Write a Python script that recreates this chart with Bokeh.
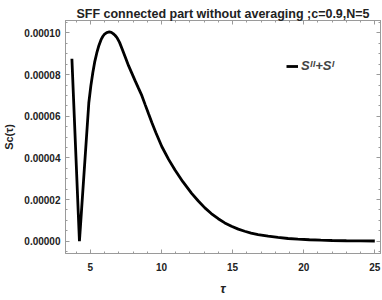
from bokeh.plotting import figure
from bokeh.models import (Range1d, LinearAxis, FixedTicker, NumeralTickFormatter,
                          Legend, LegendItem)
from bokeh.embed import file_html
from bokeh.resources import INLINE

# ---- data ----
tau = [3.70, 4.23, 4.89, 5.03, 5.17, 5.30, 5.45, 5.60, 5.75, 5.87, 6.00, 6.15,
       6.33, 6.47, 6.60, 6.73, 6.87, 7.05, 7.22, 7.45, 7.69, 7.92, 8.15, 8.38,
       8.62, 8.85, 9.09, 9.32, 9.60, 10.02, 10.50, 10.95, 11.50, 12.12, 12.59,
       13.05, 13.50, 13.99, 14.45, 14.92, 15.40, 15.85, 16.30, 16.79, 17.50,
       18.19, 18.90, 19.59, 20.40, 21.20, 22.00, 23.00, 24.00, 25.00]
s_c_e5 = [8.76, 0.00, 6.65, 7.45, 8.09, 8.60, 9.04, 9.40, 9.68, 9.83, 9.95, 10.02,
          10.05, 10.03, 9.97, 9.89, 9.78, 9.55, 9.26, 8.85, 8.42, 8.06, 7.70, 7.35,
          6.99, 6.56, 6.12, 5.70, 5.22, 4.55, 3.93, 3.42, 2.86, 2.30, 1.93,
          1.60, 1.33, 1.08, 0.88, 0.72, 0.58, 0.48, 0.39, 0.32, 0.24,
          0.18, 0.13, 0.10, 0.07, 0.05, 0.035, 0.022, 0.015, 0.01]
s_c = [v * 1e-5 for v in s_c_e5]

x_ticks = [5, 10, 15, 20, 25]
y_ticks = [0.0, 0.00002, 0.00004, 0.00006, 0.00008, 0.00010]
x_minor = [t for t in range(3, 26) if t % 5 != 0]
y_minor = [i * 0.000005 for i in range(-1, 22) if i % 4 != 0]

title_text = "SFF connected part without averaging ;c=0.9,N=5"
x_label = "\u03c4"
y_label = "Sc(\u03c4)"
legend_text = "S\u1d35\u1d35+S\u1d35"

GRAY = "#9a9a9a"
FONT = "Liberation Sans"
TXT = "#222222"

p = figure(width=382, height=300, output_backend="svg", toolbar_location=None,
           x_range=Range1d(3.25, 25.40), y_range=Range1d(-0.0000059, 0.0001060),
           min_border_left=63, min_border_right=2, min_border_top=20,
           min_border_bottom=47)
p.xgrid.visible = False
p.ygrid.visible = False
p.outline_line_color = GRAY
p.background_fill_color = "white"
p.border_fill_color = "white"

p.title.text = title_text
p.title.align = "center"
p.title.text_font = FONT
p.title.text_font_style = "bold"
p.title.text_font_size = "12.5px"
p.title.text_color = TXT
p.title.standoff = 0
p.title.offset = 0


def style_axis(ax, ticks, minor):
    ax.ticker = FixedTicker(ticks=ticks, minor_ticks=minor + ticks)
    ax.axis_line_color = GRAY
    ax.major_tick_line_color = GRAY
    ax.minor_tick_line_color = GRAY
    ax.major_tick_in = 4
    ax.major_tick_out = 0
    ax.minor_tick_in = 2
    ax.minor_tick_out = 0
    ax.major_label_text_font = FONT
    ax.major_label_text_font_style = "bold"
    ax.major_label_text_color = TXT
    ax.major_label_text_font_size = "10px"


xa = p.xaxis[0]
style_axis(xa, x_ticks, x_minor)
xa.major_label_standoff = 9
xa.axis_label = x_label
xa.axis_label_text_font = FONT
xa.axis_label_text_font_style = "bold italic"
xa.axis_label_text_font_size = "13px"
xa.axis_label_text_color = TXT
xa.axis_label_standoff = 7

ya = p.yaxis[0]
style_axis(ya, y_ticks, y_minor)
ya.major_label_standoff = 5
ya.formatter = NumeralTickFormatter(format="0.00000")
ya.axis_label = y_label
ya.axis_label_text_font = FONT
ya.axis_label_text_font_style = "bold"
ya.axis_label_text_font_size = "11px"
ya.axis_label_text_color = TXT
ya.axis_label_standoff = 6


def tick_only_axis(positions, length):
    ax = LinearAxis(ticker=FixedTicker(ticks=[], minor_ticks=positions))
    ax.axis_line_color = GRAY
    ax.minor_tick_line_color = GRAY
    ax.minor_tick_in = length
    ax.minor_tick_out = 0
    ax.major_tick_in = 0
    ax.major_tick_out = 0
    ax.major_label_standoff = 0
    return ax


p.add_layout(tick_only_axis(x_ticks, 4), "above")
p.add_layout(tick_only_axis(x_minor, 2), "above")
p.add_layout(tick_only_axis(y_ticks, 4), "right")
p.add_layout(tick_only_axis(y_minor, 2), "right")

r = p.line(tau, s_c, line_color="black", line_width=2.8)

legend = Legend(items=[LegendItem(label=legend_text, renderers=[r])],
                location=(221, 180), padding=0, margin=0, spacing=0,
                glyph_width=12, glyph_height=12, label_height=12,
                label_standoff=3, border_line_color=None,
                background_fill_alpha=0,
                label_text_font=FONT, label_text_font_style="bold italic",
                label_text_font_size="13px")
p.add_layout(legend)

open("out.html", "w").write(file_html(p, INLINE))
